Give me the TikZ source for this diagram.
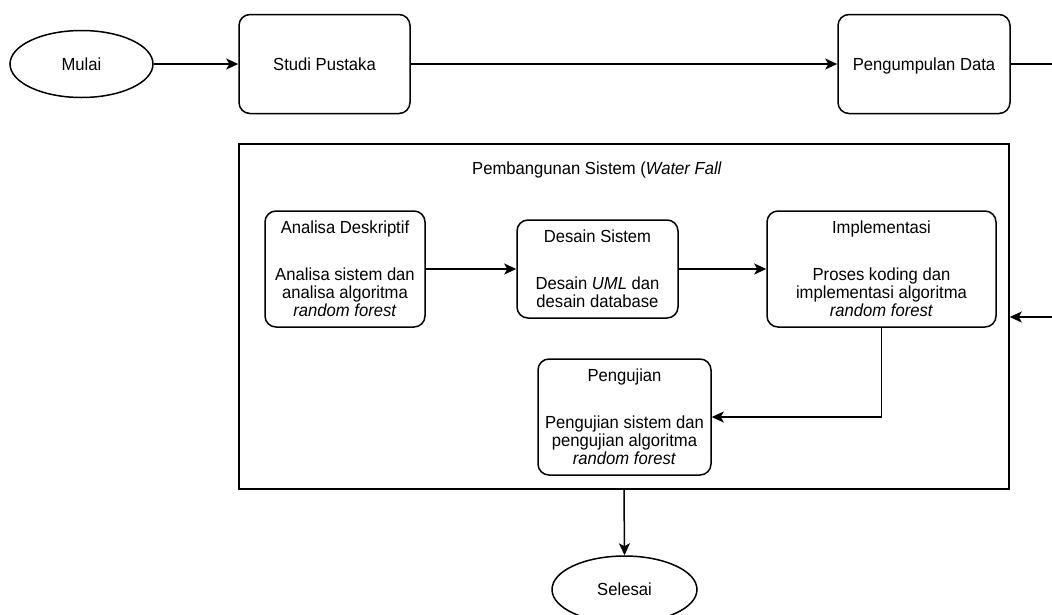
\documentclass[tikz,border=0pt]{standalone}
\usepackage{fontspec}
\setmainfont[FakeStretch=0.95]{Liberation Sans}
\usetikzlibrary{arrows.meta,shapes.geometric}
\tikzset{
  base/.style={draw, line width=1.5pt, font=\fontsize{17.5}{18}\selectfont, align=center, inner sep=0pt},
  proc/.style={base, rounded corners=11pt},
  term/.style={base, ellipse},
  single/.style={text height=12.5pt, text depth=0pt},
  conn/.style={line width=1.5pt, -{Stealth[length=12pt,width=11pt,inset=3pt]}},
  plain/.style={line width=1.5pt},
  txt/.style={font=\fontsize{17.5}{18}\selectfont, inner sep=0pt}
}
\begin{document}
\begin{tikzpicture}[x=1pt,y=-1pt]
\useasboundingbox (0,0) rectangle (1052,614);
\clip (0,0) rectangle (1052,614);
\fill[white] (0,0) rectangle (1052,614);
% top row
\node[term, single, minimum width=143pt, minimum height=67pt] (mulai) at (81.5,64) {Mulai};
\node[proc, single, minimum width=171pt, minimum height=99pt] (studi) at (324.5,64) {Studi Pustaka};
\node[proc, single, minimum width=172pt, minimum height=99pt] (pd) at (924,64) {Pengumpulan Data};
\coordinate (r1) at (1052,64);
\coordinate (r2) at (1052,317);
% system box
\node[draw, line width=1.5pt, minimum width=770pt, minimum height=345pt, inner sep=0pt] (sys) at (624,316.5) {};
\node[txt, single] (title) at (597,168) {Pembangunan Sistem (\textit{Water Fall}};
\node[proc, minimum width=160pt, minimum height=116pt] (ana) at (345,269)
  {Analisa Deskriptif\\[29pt]Analisa sistem dan\\analisa algoritma\\\textit{random forest}};
\node[proc, minimum width=161pt, minimum height=98pt] (des) at (597.5,269)
  {Desain Sistem\\[29pt]Desain \textit{UML} dan\\desain database};
\node[proc, minimum width=229pt, minimum height=116pt] (imp) at (881.5,269)
  {Implementasi\\[29pt]Proses koding dan\\implementasi algoritma\\\textit{random forest}};
\node[proc, minimum width=173pt, minimum height=116pt] (uji) at (624.5,417)
  {Pengujian\\[29pt]Pengujian sistem dan\\pengujian algoritma\\\textit{random forest}};
\node[term, single, minimum width=145pt, minimum height=67pt] (sel) at (624.5,589.5) {Selesai};
% connectors
\draw[conn] (mulai) -- (studi);
\draw[conn] (studi) -- (pd);
\draw[plain] (pd.east) -- (r1);
\draw[conn] (r2) -- (sys.east |- r2);
\draw[conn] (ana) -- (des);
\draw[conn] (des) -- (imp);
\draw[conn] (imp.south) |- (uji.east);
\draw[conn] (sys.south) -- (sel.north);
\end{tikzpicture}
\end{document}
